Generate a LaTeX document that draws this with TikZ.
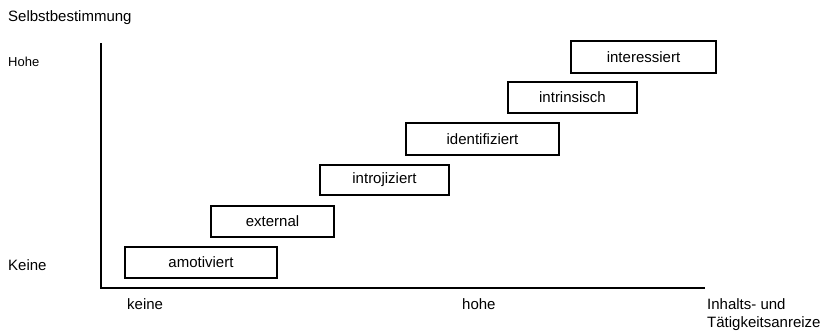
\documentclass[tikz,border=0pt]{standalone}
\usepackage{fontspec}
\setmainfont{Liberation Sans}
\begin{document}
\begin{tikzpicture}[x=1pt,y=-1pt,
  lvl/.style={draw=black,line width=1.6pt,inner sep=0pt,font=\fontsize{15}{18}\selectfont},
  lbl/.style={anchor=base west,inner sep=0pt,font=\fontsize{15}{18}\selectfont}]
\useasboundingbox (0,0) rectangle (827,332);
% axes
\coordinate (ytop) at (101,43);
\coordinate (orig) at (101,288);
\coordinate (xend) at (705,288);
\draw[line width=1.8pt] (ytop) -- (orig) -- (xend);
% axis labels
\node[lbl] (sb) at (8,21) {Selbstbestimmung};
\node[lbl,font=\fontsize{13}{16}\selectfont] (hohe1) at (8,66) {Hohe};
\node[lbl] (keine1) at (8,270) {Keine};
\node[lbl] (keine2) at (127,309) {keine};
\node[lbl] (hohe2) at (462,309) {hohe};
\node[lbl] (ia1) at (707,309) {Inhalts- und};
\node[lbl] (ia2) at (707,327) {Tätigkeitsanreize};
% levels
\node[lvl,minimum width=152pt,minimum height=31pt] (amo) at (201,262.5) {amotiviert};
\node[lvl,minimum width=123pt,minimum height=31pt] (ext) at (272.5,221.5) {external};
\node[lvl,minimum width=129pt,minimum height=30pt] (intro) at (384.5,180) {introjiziert};
\node[lvl,minimum width=153pt,minimum height=32pt] (ident) at (482.5,139) {identifiziert};
\node[lvl,minimum width=129pt,minimum height=31pt] (intr) at (572.5,97.5) {intrinsisch};
\node[lvl,minimum width=145pt,minimum height=32pt] (inter) at (643.5,57) {interessiert};
\end{tikzpicture}
\end{document}
